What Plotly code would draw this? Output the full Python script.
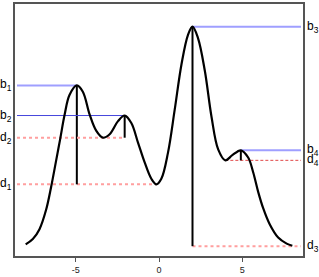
import plotly.graph_objects as go

# Curve (x, height)
curve_x = [-8.0, -7.57, -7.17, -6.77, -6.47, -6.17, -5.93, -5.67, -5.37, -4.93,
           -4.57, -4.16, -3.76, -3.37, -2.96, -2.46, -2.06, -1.66, -1.26, -0.86,
           -0.46, -0.16, 0.14, 0.54, 0.94, 1.35, 1.74, 2.01, 2.34, 2.75,
           3.15, 3.55, 3.98, 4.40, 4.91, 5.35, 5.65, 5.95, 6.25, 6.65,
           7.15, 7.66, 8.0]
curve_y = [1.0, 3.3, 7.5, 15.9, 25.7, 37.0, 46.1, 56.3, 65.0, 69.1,
           66.4, 56.6, 49.6, 46.7, 48.2, 53.8, 56.2, 53.0, 44.6, 36.1,
           29.1, 26.7, 29.1, 40.3, 58.6, 78.2, 90.8, 94.3, 89.4, 75.4,
           55.7, 41.7, 37.0, 39.2, 41.3, 38.2, 31.9, 23.5, 16.5, 9.5,
           3.9, 1.3, 0.4]

# Births (peaks) and deaths (merge levels)
peak_x = [-4.93, -2.06, 2.01, 4.91]
b_vals = [69.1, 56.2, 94.3, 41.3]
d_vals = [26.7, 46.7, 0.2, 37.0]
d_end_x = [-0.16, -2.06, 2.01, 3.98]   # where death line meets the curve
side = ["left", "left", "right", "right"]
b_labels = ["b<sub>1</sub>", "b<sub>2</sub>", "b<sub>3</sub>", "b<sub>4</sub>"]
d_labels = ["d<sub>1</sub>", "d<sub>2</sub>", "d<sub>3</sub>", "d<sub>4</sub>"]

XR = [-8.64, 8.64]
EDGE = 8.52

b_style = [dict(color="#9f9fff", width=2), dict(color="#4646dc", width=1),
           dict(color="#9f9fff", width=2), dict(color="#9f9fff", width=2)]
d_style = [dict(color="#ff9f9f", width=2, dash="dot"), dict(color="#ff9f9f", width=2, dash="dot"),
           dict(color="#ff9f9f", width=2, dash="dot"), dict(color="#e04848", width=1, dash="3px,2px")]

fig = go.Figure()

for i in range(4):
    if side[i] == "left":
        bx = [-EDGE, peak_x[i]]
        dx = [-EDGE, d_end_x[i]]
    else:
        bx = [peak_x[i], EDGE]
        dx = [d_end_x[i], EDGE]
    fig.add_trace(go.Scatter(x=bx, y=[b_vals[i], b_vals[i]], mode="lines",
                             line=b_style[i], hoverinfo="skip"))
    fig.add_trace(go.Scatter(x=dx, y=[d_vals[i], d_vals[i]], mode="lines",
                             line=d_style[i], hoverinfo="skip"))
    fig.add_trace(go.Scatter(x=[peak_x[i], peak_x[i]], y=[b_vals[i], d_vals[i]],
                             mode="lines", line=dict(color="black", width=2),
                             hoverinfo="skip"))

fig.add_trace(go.Scatter(x=curve_x, y=curve_y, mode="lines",
                         line=dict(color="black", width=2.2, shape="spline", smoothing=1.0),
                         hoverinfo="skip"))

annotations = []
for i in range(4):
    if side[i] == "left":
        xp, xa = -0.0075, "right"
    else:
        xp, xa = 1.0105, "left"
    for lab, yv in ((b_labels[i], b_vals[i]), (d_labels[i], d_vals[i])):
        annotations.append(dict(x=xp, xref="paper", y=yv, yref="y", text=lab,
                                showarrow=False, xanchor=xa, yanchor="middle",
                                font=dict(family="Liberation Sans, Arial", size=12, color="black"),
                                borderpad=0))

fig.update_layout(
    width=319, height=277,
    margin=dict(l=15, r=16, t=2, b=18),
    paper_bgcolor="white", plot_bgcolor="white",
    showlegend=False,
    annotations=annotations,
    xaxis=dict(range=XR, showgrid=False, zeroline=False, showline=True, mirror=True,
               linecolor="#555", linewidth=1.5, ticks="outside", ticklen=4, tickcolor="#555",
               tickvals=[-5, 0, 5], ticktext=["-5", "0", "5"],
               tickfont=dict(family="Liberation Sans, Arial", size=9, color="#222")),
    yaxis=dict(range=[-4, 104.0], showgrid=False, zeroline=False, showline=True, mirror=True,
               linecolor="#555", linewidth=1.5, showticklabels=False, ticks=""),
)

fig.write_html("out.html", config={"displayModeBar": False},
               post_script="document.body.style.margin='0';document.body.style.padding='0';")
